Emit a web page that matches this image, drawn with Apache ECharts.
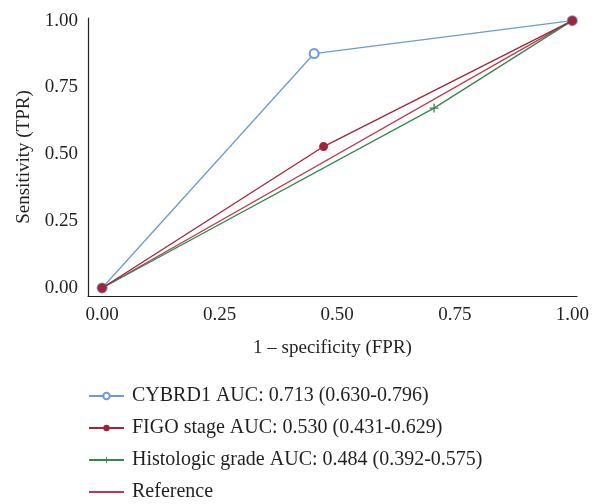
<!DOCTYPE html>
<html>
<head>
<meta charset="utf-8">
<script src="https://cdn.jsdelivr.net/npm/echarts@6/dist/echarts.min.js"></script>
<style>
  html, body { margin: 0; padding: 0; background: #fff; }
  #chart { width: 605px; height: 504px; }
</style>
</head>
<body>
<div id="chart"></div>
<script>
// ROC points: [FPR, TPR]
const cybrd1 = [[0, 0], [0.451, 0.877], [1, 1]]
const figo = [[0, 0], [0.471, 0.529], [1, 1]]
const histologic = [[0, 0], [0.706, 0.673], [1, 1]]
const reference = [[0, 0], [1, 1]]

const seriesNames = [
    "CYBRD1 AUC: 0.713 (0.630-0.796)",
    "FIGO stage AUC: 0.530 (0.431-0.629)",
    "Histologic grade AUC: 0.484 (0.392-0.575)",
    "Reference"
]
const tickValues = [0, 0.25, 0.5, 0.75, 1]

const font = "'Liberation Serif', 'DejaVu Serif', serif"
const plusPath = "path://M4.3,0H5.7V4.3H10V5.7H5.7V10H4.3V5.7H0V4.3H4.3Z"

const chart = echarts.init(document.getElementById("chart"))

// shared axis look
function axis(name, gap) {
    return {
        type: "value",
        min: -0.03,
        max: 1.01,
        name: name,
        nameLocation: "middle",
        nameGap: gap,
        nameTextStyle: { fontFamily: font, fontSize: 19, color: "#231f20" },
        axisLine: { show: true, onZero: false, lineStyle: { color: "#231f20", width: 1.2 } },
        axisTick: { show: false },
        splitLine: { show: false },
        axisLabel: {
            customValues: tickValues,
            formatter: v => v.toFixed(2),
            fontFamily: font,
            fontSize: 19,
            color: "#231f20",
            margin: 10
        }
    }
}

chart.setOption({
    animation: false,
    grid: { left: 88, right: 28, top: 18, bottom: 208 },
    xAxis: axis("1 – specificity (FPR)", 43),
    yAxis: axis("Sensitivity (TPR)", 54),
    legend: {
        orient: "vertical",
        left: 88,
        top: 386,
        padding: 0,
        itemGap: 12,
        itemWidth: 35,
        itemHeight: 8,
        textStyle: { fontFamily: font, fontSize: 20, color: "#231f20", padding: [0, 0, 0, 3] },
        data: [
            seriesNames[0],
            seriesNames[1],
            seriesNames[2],
            { name: seriesNames[3], itemStyle: { opacity: 0 } }
        ]
    },
    series: [
        {
            name: seriesNames[3],
            type: "line",
            data: reference,
            symbol: "none",
            lineStyle: { color: "#b93a52", width: 1.3 },
            itemStyle: { color: "#b93a52" },
            z: 1
        },
        {
            name: seriesNames[0],
            type: "line",
            data: cybrd1,
            symbol: "emptyCircle",
            symbolSize: 9,
            lineStyle: { color: "#6b9bd2", width: 1.3 },
            itemStyle: { color: "#6b9bd2", borderWidth: 1.3 },
            z: 2
        },
        {
            name: seriesNames[2],
            type: "line",
            data: histologic,
            symbol: plusPath,
            symbolSize: 9,
            lineStyle: { color: "#2f8a4c", width: 1.3 },
            itemStyle: { color: "#2f8a4c" },
            z: 3
        },
        {
            name: seriesNames[1],
            type: "line",
            data: figo,
            symbol: "circle",
            symbolSize: 9,
            lineStyle: { color: "#a52238", width: 1.3 },
            itemStyle: { color: "#a52238" },
            z: 4
        }
    ]
})
</script>
</body>
</html>
